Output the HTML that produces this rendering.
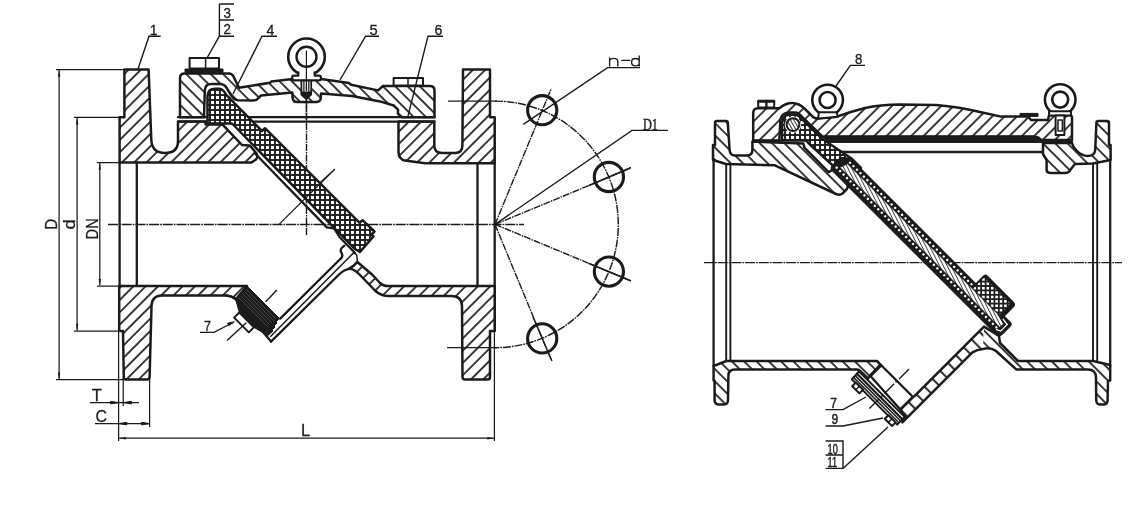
<!DOCTYPE html>
<html><head><meta charset="utf-8"><title>Check valve drawing</title>
<style>
html,body{margin:0;padding:0;background:#fff;}
body{width:1146px;height:510px;overflow:hidden;font-family:"Liberation Sans",sans-serif;}
svg{display:block;}
.m{fill:none;stroke:#1b1b1b;stroke-width:2.3;stroke-linejoin:round;stroke-linecap:round;}
.m15{fill:none;stroke:#1b1b1b;stroke-width:1.5;stroke-linejoin:round;stroke-linecap:round;}
.t{fill:none;stroke:#1b1b1b;stroke-width:1.25;stroke-linecap:butt;}
.t12{fill:none;stroke:#1b1b1b;stroke-width:1.4;}
.ha{fill:url(#hA);stroke:#1b1b1b;stroke-width:2.5;stroke-linejoin:round;}
.hb{fill:url(#hB);stroke:#1b1b1b;stroke-width:2.5;stroke-linejoin:round;}
.hx{fill:url(#hX);stroke:#1b1b1b;stroke-width:2.5;stroke-linejoin:round;}
.w{fill:#fff;stroke:#1b1b1b;stroke-width:2;stroke-linejoin:round;}
.k{fill:#1b1b1b;stroke:#1b1b1b;stroke-width:1;stroke-linejoin:round;}
.cl{fill:none;stroke:#1b1b1b;stroke-width:1.45;stroke-dasharray:10 1 1.7 1;}
.cl2{fill:none;stroke:#1b1b1b;stroke-width:1.4;stroke-dasharray:7 1 1.5 1;}
text{font-family:"Liberation Sans",sans-serif;fill:#1b1b1b;stroke:#1b1b1b;stroke-width:0.3px;}
.lb{font-size:14px;opacity:0.995;}
</style></head><body>
<svg width="1146" height="510" viewBox="0 0 1146 510">
<defs>
<pattern id="hA" width="8.7" height="8.7" patternUnits="userSpaceOnUse" patternTransform="rotate(45)"><rect width="8.7" height="8.7" fill="#fff"/><line x1="1" y1="0" x2="1" y2="8.7" stroke="#1b1b1b" stroke-width="1.7"/></pattern>
<pattern id="hB" width="8.7" height="8.7" patternUnits="userSpaceOnUse" patternTransform="rotate(-45)"><rect width="8.7" height="8.7" fill="#fff"/><line x1="1" y1="0" x2="1" y2="8.7" stroke="#1b1b1b" stroke-width="1.7"/></pattern>
<pattern id="hB2" width="11.1" height="11.1" patternUnits="userSpaceOnUse" patternTransform="rotate(-45)"><rect width="11.1" height="11.1" fill="#fff"/><line x1="3" y1="0" x2="3" y2="11.1" stroke="#1b1b1b" stroke-width="1.9"/></pattern>
<pattern id="hX" width="5" height="5" patternUnits="userSpaceOnUse"><rect width="5" height="5" fill="#1b1b1b"/><rect x="0.95" y="0.95" width="3.1" height="3.1" fill="#fff"/></pattern>
<pattern id="hX2" width="4.4" height="4.4" patternUnits="userSpaceOnUse"><rect width="4.4" height="4.4" fill="#1b1b1b"/><rect x="0.9" y="0.9" width="2.6" height="2.6" fill="#fff"/></pattern>
<pattern id="hD" width="4.9" height="4.9" patternUnits="userSpaceOnUse"><rect width="4.9" height="4.9" fill="#1b1b1b"/><circle cx="2.45" cy="2.5" r="1.25" fill="#fff"/></pattern>
<pattern id="hG" width="3.4" height="3.4" patternUnits="userSpaceOnUse" patternTransform="rotate(-72)"><rect width="3.4" height="3.4" fill="#fff"/><line x1="0.5" y1="0" x2="0.5" y2="3.4" stroke="#1b1b1b" stroke-width="0.8"/></pattern>
<pattern id="hF" width="3" height="3" patternUnits="userSpaceOnUse" patternTransform="rotate(-30)"><rect width="3" height="3" fill="#fff"/><line x1="0.5" y1="0" x2="0.5" y2="3" stroke="#1b1b1b" stroke-width="0.9"/></pattern>
<marker id="ar" viewBox="0 0 10 6" refX="10" refY="3" markerWidth="9" markerHeight="4" orient="auto-start-reverse" markerUnits="userSpaceOnUse"><path d="M0,1.2 L10,3 L0,4.8 Z" fill="#1b1b1b"/></marker>
</defs>
<g id="leftdrawing">
<!-- ===== dimension lines ===== -->
<g class="t">
<path d="M56,69.6 H124 M56,379.6 H124"/>
<path d="M59.1,70 V379.2" marker-start="url(#ar)" marker-end="url(#ar)"/>
<path d="M74,117.3 H120 M74,331 H120"/>
<path d="M77.1,117.8 V330.5" marker-start="url(#ar)" marker-end="url(#ar)"/>
<path d="M97,162.6 H120 M97,286 H120"/>
<path d="M99.8,163 V285.6" marker-start="url(#ar)" marker-end="url(#ar)"/>
<path d="M118.6,331 V441 M123.2,378 V406 M149.6,380 V427 M494.4,332 V441"/>
<path d="M90,402.6 H139"/>
<path d="M95,423.6 H149" />
<path d="M119.2,438.2 H494" marker-start="url(#ar)" marker-end="url(#ar)"/>
</g>
<path class="k" d="M118.6,402.6 l-8,-1.3 v2.6z M123.4,402.6 l8,-1.3 v2.6z M118.8,423.6 l8,-1.3 v2.6z M149.4,423.6 l-8,-1.3 v2.6z" stroke="none"/>
<!-- ===== centerlines ===== -->
<path class="cl" d="M108,224.4 H524"/>
<path class="cl2" d="M306.5,60 V236"/>
<!-- bolt circle -->
<path class="cl" style="stroke-dasharray:8 1 1.6 1" d="M495,101.1 A123.3,123.3 0 0 1 495,347.7"/>
<g class="cl2">
<path d="M495,224.4 L551.3,88.6"/>
<path d="M495,224.4 L630.8,168.1"/>
<path d="M495,224.4 L630.8,280.7"/>
<path d="M495,224.4 L551.3,360.2"/>
</g>
<g fill="none" stroke="#1b1b1b" stroke-width="3.1">
<circle cx="542.2" cy="110.2" r="14.6"/><circle cx="608.9" cy="177.0" r="14.6"/>
<circle cx="608.9" cy="271.6" r="14.6"/><circle cx="542.2" cy="338.4" r="14.6"/>
</g>
<g class="t12">
<path d="M589,185.5 L631,167.5"/>
<path d="M589,263.5 L631,281"/>
<path d="M533,317 L552,361"/>
<path d="M523.3,124.3 L607.6,67.6 H640"/>
<path d="M495,224.4 L632,130.4 H668"/>
</g>
<!-- ===== upper left flange + body ===== -->
<path class="ha" d="M124.4,69.6 L148.6,69.6 L151.3,140 Q152,153 165,153 Q178,153 178,141 L178,121.4 L205.6,121.4 L205.6,124.6 L222.6,124.6 L242,145 L249.6,145.4 L256.2,153 Q258.6,156.4 256,159.4 L251.5,162.6 L119.6,162.6 L119.6,117.3 L124.4,117.3 Z"/>
<!-- upper right body + flange -->
<path class="ha" d="M398.5,121.4 L434.3,121.4 L434.3,145.5 Q434.3,153 442,153 L455,153 Q462.4,153 462.4,145.5 L463,69.6 L490,69.6 L490,117.2 L494.7,117.2 L494.7,163.2 L425,163.2 L405,160.6 Q398.5,159 398.5,152 Z"/>
<!-- bore face lines -->
<path class="m" d="M119.6,162 V286 M136.8,162.6 V286 M494.7,163 V331 M477.5,163.2 V286"/>
<!-- lower left flange + wall -->
<path class="ha" d="M119.2,286 L247,286 L236,299 Q231,295.6 226,295.6 L162,295.6 Q152,295.6 151.5,306 L149.6,377 Q149.6,379.6 147,379.6 L126,379.6 Q123.8,379.6 123.8,377 L123,331 L119.2,331 Z"/>
<!-- plug -->
<path class="k" d="M247,286 L279.3,318.4 L276,322 L277,323 L274,326 L275,327 L272,330 L273,331 L268,335.5 L254,327.4 L239.3,312.5 L235.5,299 Z"/>
<path d="M246.5,289.5 L276.0,319.0 M244.5,291.5 L274.0,321.0 M242.5,293.5 L272.0,323.0 M240.5,295.5 L270.0,325.0 M238.5,297.5 L268.0,327.0" fill="none" stroke="#6a6a6a" stroke-width="0.55"/>
<path class="m" d="M226,295.6 Q231,295.6 235.5,299 L271,341.6"/>
<!-- nut -->
<path class="w" d="M239.3,312.5 L234.1,317.6 L248.8,332.4 L254,327.2 Z"/>
<path class="t12" d="M276.8,290 L265.7,301.8 M246.3,322.7 L227,340.6"/>
<!-- diagonal rib lines -->
<path class="m" d="M280.2,318.6 L340.3,259 Q344,256 341,252 Q339.5,249 344.4,245.6"/>
<path class="m15" d="M270.5,336.5 L353.8,252.6 L356.8,255 L357.4,262"/>
<path class="m" d="M271,341.6 L338.5,275 Q344,269.6 349,268.8"/>
<!-- lower right wall + flange -->
<path class="ha" d="M357.4,262 L372.6,275 L380,283 Q383,286 388,286 L494.7,286 L494.7,331 L490,331 L490,377 Q490,379.6 487.5,379.6 L465,379.6 Q462.6,379.6 462.5,377 L462,306 Q462,296 451,296 L389,296 Q381,296 375.5,291 L360,275 Q354,268.6 349,268.8 L353.8,265.6 Z"/>
<path class="t" d="M448,101.1 H497 M447,347.7 H497"/>
</g>
<g id="leftdrawing2">
<!-- cover / bonnet (hatch B) -->
<path class="hb" d="M180,117.2 L180,78 Q180,73.6 184.5,73.6 L229,73.6 Q232,73.6 233.5,76.5 L239,87.8 L270,82.8 L271.5,81.4 L292.4,79 L321,79 L349,83 L351,84.8 L378,90.4 L383,86 L430,86 Q434.5,86 434.5,90.5 L434.5,117.2 L402,117.2 L398,113.7 L398,109.6 L393.7,105.5 L380,101.4 L352,96 L321,93.4 L320.8,98 Q320.5,101.8 316.5,102 L297,102 Q293,101.8 292.6,98 L292.3,92.6 L261,95.5 L258,98.5 Q256.5,100.5 253,100.5 L238,100.2 Q234,100 232,96.5 L226,87 Q224,84 220,84 L211,84 Q205,84 204.8,91 L204,117.2 Z"/>
<!-- gasket double line -->
<path class="m" d="M178,117.2 H434.5 M178,121.6 H434.5"/>
<!-- hinge + arm + disc (cross hatch) -->
<path class="hx" d="M207.5,123.4 L207.5,96 Q208,88.8 215,88.8 L219.5,88.8 Q223.5,89.5 226,94.6 L262,131 L265,128.2 L359.4,222.6 L362.8,220.3 L374.5,231.5 L371.5,234.4 L373.4,236.4 L360,252 L354.8,249 L232.6,124 L231,123.4 Z"/>
<!-- seal strip -->
<path class="m" d="M254.6,153 L326.8,227.4 L334,228.4 L339.5,237 L355,253"/>
<path class="t" d="M334,170 L279,224.4 M320,182.6 L335,169" />
<!-- bolts -->
<path class="w" d="M189.6,58 H219 V68.4 H189.6 Z"/><path class="k" d="M185,69 H223 V72.6 H185 Z"/>
<path class="m15" d="M205.6,58 V68.4"/>
<path class="w" d="M393.6,78 H423 V85.6 H393.6 Z"/>
<path class="m15" d="M408,78 V85.6"/>
<!-- eye bolt -->
<circle cx="306.5" cy="56.8" r="18.3" fill="#fff" stroke="#1b1b1b" stroke-width="2.6"/>
<circle cx="306.5" cy="56.8" r="10" fill="#fff" stroke="#1b1b1b" stroke-width="2.4"/>
<path d="M298.3,71.5 L298.3,75.6 L294,75.6 Q292.2,75.6 292.2,77.4 L292.2,78.6 Q292.2,80.4 294,80.4 L319,80.4 Q320.9,80.4 320.9,78.6 L320.9,77.4 Q320.9,75.6 319,75.6 L314.7,75.6 L314.7,71.5" fill="#fff" stroke="#1b1b1b" stroke-width="2.3" stroke-linejoin="round"/>
<path d="M301.4,80.6 V94.5 L306.3,99 L311.2,94.5 V80.6 Z" fill="#fff" stroke="#1b1b1b" stroke-width="1.8" stroke-linejoin="round"/>
<path class="t" d="M303.9,81 V92.5 M308.8,81 V92.5"/>
<path class="k" d="M301.4,92 H311.2 V94.8 L306.3,99.2 L301.4,94.8 Z"/>
<path class="t" d="M306.4,50.5 V84"/>
<path class="cl2" d="M306.4,84 V120"/>
<!-- labels -->
<g class="t12">
<path d="M138,69 L149,36.2 H160.6"/>
<path d="M207,58 L219.4,36.2 M219.4,4 V36.2 M219.4,4 H234 M219.4,20 H234 M219.4,36.2 H234"/>
<path d="M233,94 L262,36.2 H277"/>
<path d="M340,80 L365.6,36.2 H379"/>
<path d="M408,116 L428,36.2 H443"/>
<path d="M200,332.4 H214 L233,322.5"/>
</g>
<path class="k" d="M234.3,321.8 L227.6,323.2 L228.8,325.6 Z" stroke="none"/>
<path d="M609.6,58 V66 M609.6,61.2 Q610,58.4 613.8,58.4 Q617.8,58.4 617.8,61.8 V66 M621.8,60.4 H629.8 M639.2,56 V66 M639.2,61.2 Q639,58.5 635.4,58.5 Q631.6,58.5 631.6,62.2 Q631.6,65.9 635.4,65.9 Q639,65.9 639.2,63.2" fill="none" stroke="#1b1b1b" stroke-width="1.35" stroke-linecap="round" stroke-linejoin="round"/>
<g class="lb">
<text transform="translate(149.8,35) scale(1.0,1)">1</text>
<text transform="translate(223.4,17.8) scale(0.95,1)">3</text>
<text transform="translate(223.4,34.2) scale(0.95,1)">2</text>
<text transform="translate(266.4,35) scale(1.0,1)">4</text>
<text transform="translate(369.6,35) scale(1.05,1)">5</text>
<text transform="translate(434.4,35) scale(1.0,1)">6</text>
<text transform="translate(204,331) scale(0.9,1)">7</text>
<text transform="translate(643,129.8) scale(0.74,1)" style="font-family:'Liberation Serif',serif;font-size:16.6px;stroke-width:0.4px">D1</text>
<text transform="translate(300.9,436) scale(1.0,1)" style="font-size:16.4px">L</text>
<text transform="translate(91.7,401) scale(1.0,1)" style="font-size:16.6px">T</text>
<text transform="translate(95.4,421.6) scale(0.95,1)" style="font-size:16.8px">C</text>
<text transform="translate(56.8,229.8) rotate(-90) scale(0.9,1)" style="font-size:16.8px">D</text>
<text transform="translate(75,229.6) rotate(-90) scale(1.15,1)" style="font-size:16.2px">d</text>
<text transform="translate(98,239.4) rotate(-90) scale(0.87,1)" style="font-size:16.8px">DN</text>
</g>
</g>
<g id="rightdrawing">
<path class="cl" d="M704,262.6 H1122"/>
<!-- left flange + body hinge support (hatch B) -->
<path class="hb" d="M715,123 Q715,121 717,121 L726,121 Q727.8,121 727.8,123 L729.6,150 Q730,155.4 735,155.4 L747,155.4 Q752.4,155.4 752.4,150 L752.4,141.5 L803.4,143.5 L804.4,147.6 L828.6,172.2 L834,169 L847,184 Q849,187 846,190 L842.5,193.5 Q840,195.5 836,194 L774.4,165.2 L726,164 L713,160 L713,145 L715,145 Z"/>
<!-- bonnet + cover (hatch A) -->
<path class="ha" d="M753.2,140.6 L753.2,113 Q753.2,108.2 758,108.2 L779.3,108.2 Q786,103 792,103 Q799,103 805,109 L811.7,115.7 Q814,118.6 818,118.6 L837,116.7 Q851,111.5 865,108 Q880,105 900,104.6 L936,105 Q960,107 980,112 L1000,116.4 L1028,116.4 L1031,120 L1048,120 L1049,115.2 L1071,115.2 L1072,117 L1072,140 L1041,140 Q1039,137 1034,136.6 L824,136.6 L823.4,137.3 L798.5,113.5 Q797,112.4 795,112.4 L789,112.4 Q780.3,113 780.3,121.6 L779.3,140.6 Z"/>
<!-- black bar under cover -->
<path class="k" d="M822,136.3 L1035,136.3 Q1040,137 1043,142.4 L828,142.4 Z"/>
<path class="m" d="M753.2,140.8 H781 M1040,141 H1072 M838,152 H1043"/>
<!-- hinge crosshatch -->
<path class="hx" d="M782,140.6 L782.3,122 Q783,114.4 790,114.4 L795,114.4 Q797.4,114.6 799.4,116.6 L822.4,139 L851.9,158.8 L861,168 L848,181 L835.5,168 L811,145.5 L806,140.6 Z"/>
<circle cx="793" cy="124.6" r="8.2" fill="#fff" stroke="none"/><circle cx="793" cy="124.6" r="6.4" fill="url(#hF)" stroke="#1b1b1b" stroke-width="2"/>
<!-- disc -->
<g transform="translate(850,158.5) rotate(45)">
<path d="M0,0 L178,0 L178,-11.5 Q178,-13.5 180,-13.5 L217,-13.5 Q220,-13.5 220,-10.5 L220,3 L229,3 Q231.5,3 231.5,5.5 L231.5,16 Q231.5,20.6 227,20.6 L-4,20.6 Q-7,20.6 -7,17 L-7,6 Z" fill="#1b1b1b" stroke="#1b1b1b" stroke-width="2" stroke-linejoin="round"/>
<path d="M3,3 H177" fill="none" stroke="#fff" stroke-width="2.4" stroke-linecap="round" stroke-dasharray="0.01 4.9"/>
<path d="M-3,15.9 H226" fill="none" stroke="#fff" stroke-width="2.4" stroke-linecap="round" stroke-dasharray="0.01 4.9"/>
<path d="M2,5.5 L214,5.5 L225.5,8.2 L225.5,13.5 L-1,13.5 Z" fill="url(#hG)" stroke="#1b1b1b" stroke-width="0.8"/>
<path d="M221.5,5.4 L228.6,6.2 L228.6,15.5 L224,17.6" fill="none" stroke="#fff" stroke-width="1.3"/>
</g>
<path d="M984.2,277.4 L1010.4,303.6 L999.4,314.6 L973.2,288.4 Z" fill="url(#hX2)" stroke="none"/>
<!-- right seat + flange (hatch B) -->
<path class="hb" d="M1043,143 L1072,143 Q1072.8,147 1076,150 Q1081,155.8 1088,156 Q1094.8,155.6 1095.2,150 L1096.4,123 Q1096.4,121 1098.4,121 L1107,121 Q1109,121 1109,123 L1109,145 L1110.6,145 L1110.6,160 L1093,163.4 L1075,164 L1071,169 Q1069,173 1065,173 L1050,173 Q1046.6,173 1046.6,169.6 L1046.6,160 L1043,154 Z"/>
<!-- bore lines -->
<path class="m" d="M713.6,160 V366 M1110.2,160 V366"/>
<path class="m" style="stroke-width:1.9" d="M726.2,164 V361 M730.4,164 V361 M1093,163.4 V361 M1097.2,163.4 V361"/>
<!-- lower left flange + wall (hatch B) -->
<path class="hb" d="M713.6,366 L726.4,361 L877,361 L881,365.5 L868,378.4 L859,370 L857,369.6 L735,369.6 Q728.4,369.6 728.4,376 L728,400 Q728,404.4 724,404.4 L718.6,404.4 Q714.6,404.4 714.6,400 L714.6,381 L713.6,380.6 Z"/>
<!-- lower right wall + flange -->
<path d="M984,326.6 L983,349 Q977,349.5 972.4,352.4 L902.4,422.4 L905.5,416.5 L900.3,409.6 L913,397 L914.5,396.2 Z" fill="url(#hB2)" stroke="none"/>
<path d="M984,326.6 L999,336 L1000,343 L1018,361 L1093,361 L1110.2,365 L1110.2,380.6 L1108,381 L1107.6,400 Q1107.6,404.4 1104,404.4 L1100,404.4 Q1096.4,404.4 1096.2,400 L1096,378 Q1096,369.6 1088,369.6 L1016.5,369.6 L996,351 Q990,347 983,349 Z" fill="url(#hB)" stroke="none"/>
<path class="m" style="stroke-width:2.5" d="M984,326.6 L999,336 L1000,343 L1018,361 L1093,361 L1110.2,365 L1110.2,380.6 L1108,381 L1107.6,400 Q1107.6,404.4 1104,404.4 L1100,404.4 Q1096.4,404.4 1096.2,400 L1096,378 Q1096,369.6 1088,369.6 L1016.5,369.6 L996,351 Q990,347 983,349 Q977,349.5 972.4,352.4 L902.4,422.4 L905.5,416.5 L900.3,409.6 L913,397 L914.5,396.2 Z"/>
<!-- drain neck + cap -->
<path class="m" d="M877,361 L913,397 L900.3,409.6 M879,366 L870,375.6 L900.3,409.6"/>
<path class="w" d="M859.1,371.5 L904.6,416.9 L897.2,424.6 L851.8,379.2 Z"/>
<path class="m" d="M857,373.8 L902.4,419.2"/>
<path class="m15" d="M855.2,375.6 L900.6,421 M853.5,377.4 L898.9,422.8"/>
<path class="w" d="M855.8,382.6 L852.2,386.2 L859.4,393.4 L863,389.8 Z M888.4,415.2 L884.8,418.8 L892,426 L895.6,422.4 Z" />
<path class="m15" d="M859.4,386.2 L855.8,389.8 M892,418.8 L888.4,422.4"/>
<path class="t12" style="stroke-dasharray:14 2 3 2" d="M909,369 L868,410"/>
<!-- eye bolts -->
<g fill="#fff" stroke="#1b1b1b" stroke-width="2.6">
<circle cx="827.6" cy="100" r="15.3"/><circle cx="827.6" cy="100" r="8"/>
<circle cx="1060.2" cy="99.6" r="15.3"/><circle cx="1060.2" cy="99.6" r="8"/>
</g>
<path class="w" d="M819,112.2 H836.5 L838,116.8 L818,118.6 Z"/>
<path class="w" d="M1049,111.2 H1071 V115.4 H1049 Z"/>
<path class="w" d="M1055.6,115.4 H1064.4 V135 H1055.6 Z"/>
<path class="m15" d="M1058,120 H1062.4 V131 H1058 Z"/>
<!-- small bolts -->
<path class="w" d="M758.2,100.8 H774.2 V107.6 H758.2 Z"/><path class="m" d="M758.2,101.6 H774.2 M766.4,101 V107"/>
<path class="k" d="M1020,113.4 H1038 V116.4 H1020 Z"/>
<!-- labels -->
<g class="t12">
<path d="M836,86 L850.4,65.4 H865"/>
<path d="M825.6,409.6 H843 L866,397"/>
<path d="M825.6,426 H843 L883,418"/>
<path d="M825.6,441 H843 V468.4 H825.6 M825.6,455 H843 M843,468.4 L888,427"/>
</g>
<g class="lb">
<text transform="translate(855,64) scale(0.95,1)">8</text>
<text transform="translate(830.2,408) scale(0.86,1)" style="stroke-width:0.45px">7</text>
<text transform="translate(831.6,424.4) scale(0.86,1)" style="stroke-width:0.45px">9</text>
<text transform="translate(827.6,454.2) scale(0.64,1)" style="font-size:14.4px;stroke-width:0.5px">10</text>
<text transform="translate(827.6,467.2) scale(0.64,1)" style="font-size:14.4px;stroke-width:0.5px">11</text>
</g>
</g>
</svg></body></html>
